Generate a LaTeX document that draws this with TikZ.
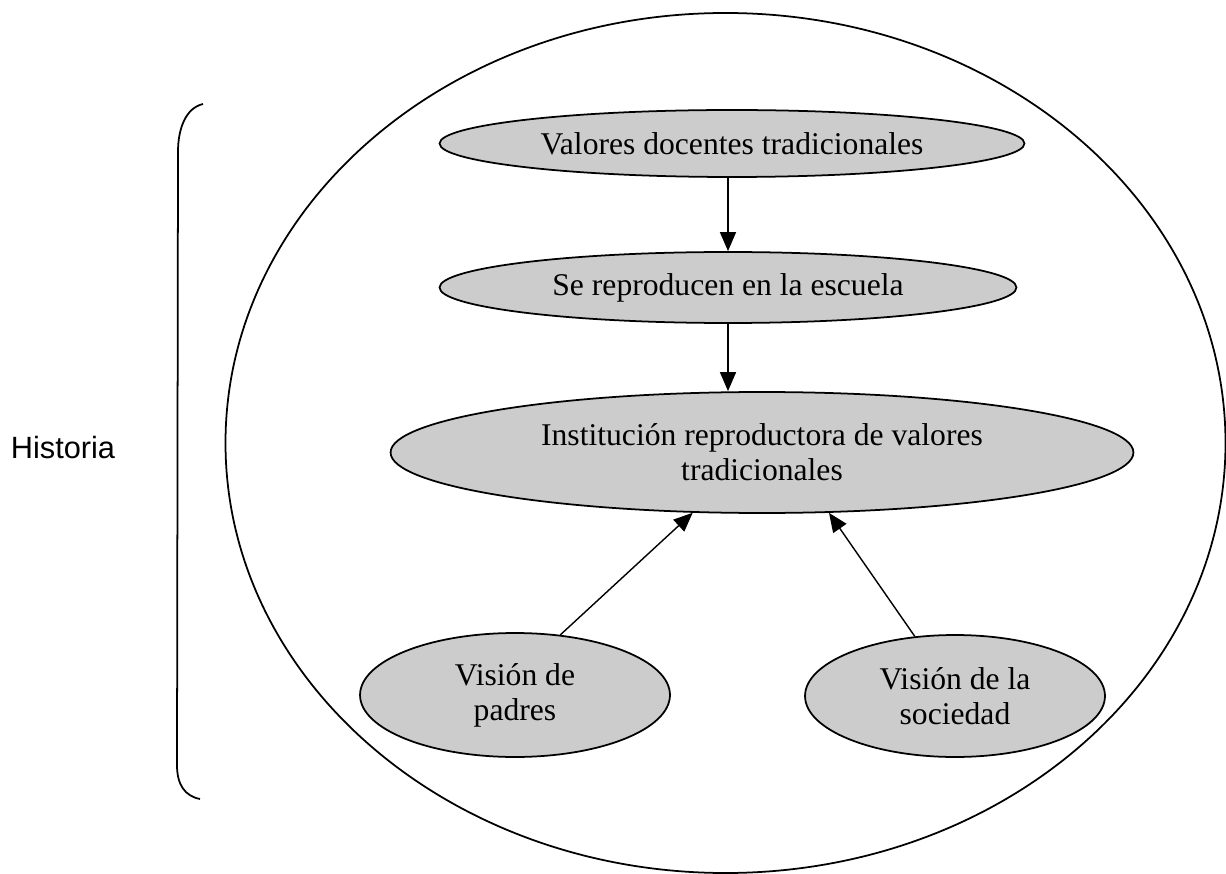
\documentclass[tikz,border=0pt]{standalone}
\usepackage{fontspec}
\setmainfont{Liberation Serif}
\newfontfamily\histfont{Liberation Sans}
\usepackage{tikz}
\usetikzlibrary{shapes.geometric,arrows.meta}

\tikzset{
  valor/.style={ellipse, draw, line width=1pt, fill=gray!40, inner sep=0pt,
    align=center, font=\fontsize{18pt}{20pt}\selectfont},
  flecha/.style={-{Triangle[length=0.38cm,width=0.32cm]}, line width=0.8pt}
}

\begin{document}
\begin{tikzpicture}[x=0.02cm,y=-0.02cm]
	\useasboundingbox (0,0) rectangle (1226,874);
	% Outer ellipse
	\draw[line width=1pt] (725.5,443) ellipse [x radius=500, y radius=430];
	% Bracket and label
	\draw[line width=1pt] (203,104) .. controls (186,108) and (178,128) .. (178,152) -- (177,765) .. controls (177,785) and (185,796) .. (200,799);
	\node[font=\histfont\fontsize{17.5pt}{20pt}\selectfont] (hist) at (63,448) {Historia};
	% Ellipses
	\node[valor, minimum width=11.7cm, minimum height=1.34cm] (vdt) at (732,143.5) {Valores docentes tradicionales};
	\node[valor, minimum width=11.54cm, minimum height=1.42cm] (rep) at (728,287.5) {Se reproducen en la escuela};
	\node[valor, minimum width=14.86cm, minimum height=2.42cm] (inst) at (762,452.5) {Instituci\'on reproductora de valores\\tradicionales};
	\node[valor, minimum width=6.2cm, minimum height=2.48cm] (padres) at (515,695) {Visi\'on de\\padres};
	\node[valor, minimum width=6cm, minimum height=2.44cm] (soc) at (955,696) {Visi\'on de la\\sociedad};
	% Arrows
	\draw[flecha] (rep.north |- vdt.south) -- (rep.north);
	\draw[flecha] (rep.south) -- (rep.south |- inst.north);
	\draw[flecha] (padres.53) -- (inst.221.6);
	\draw[flecha] (soc.124.2) -- (inst.318);
\end{tikzpicture}
\end{document}
